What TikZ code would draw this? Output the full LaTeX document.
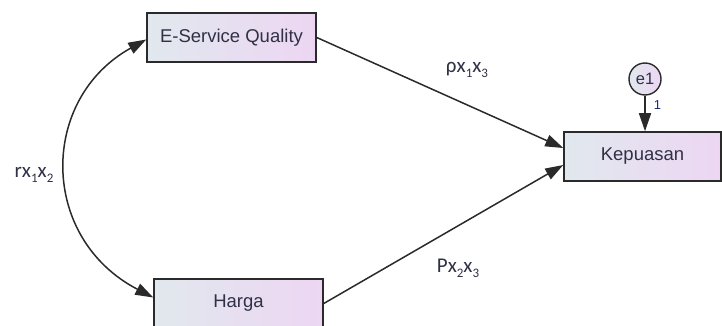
\documentclass[tikz,border=0pt]{standalone}
\usepackage{fontspec}
\setmainfont{Liberation Sans}
\newfontfamily\labfont{Carlito}
\usetikzlibrary{arrows.meta}
\definecolor{lineC}{HTML}{2A2A2A}
\definecolor{boxL}{HTML}{E1E8EE}
\definecolor{boxR}{HTML}{EDD6F3}
\definecolor{txtC}{HTML}{303046}
\definecolor{oneC}{HTML}{1E2C70}
\newcommand{\sbs}[1]{\raisebox{-0.22em}{\fontsize{13}{14}\selectfont #1}}
\begin{document}
\begin{tikzpicture}[x=1pt,y=-1pt,
  var/.style={draw=lineC, line width=1.5pt, left color=boxL, right color=boxR,
    minimum height=49pt, inner sep=0pt, font=\fontsize{18.5}{20}\selectfont, text=txtC},
  err/.style={draw=lineC, line width=1.4pt, circle, left color=boxL, right color=boxR,
    minimum size=32pt, inner sep=0pt, font=\fontsize{16.5}{18}\selectfont, text=txtC},
  conn/.style={draw=lineC, line width=1.5pt, -{Triangle[length=18pt,width=12pt]}},
  dconn/.style={draw=lineC, line width=1.5pt, {Triangle[length=18pt,width=12pt]}-{Triangle[length=18pt,width=12pt]}},
  lab/.style={font=\labfont\fontsize{21}{22}\selectfont, text=txtC, inner sep=0pt}
]
\useasboundingbox (0,0) rectangle (722,326);
\clip (0,0) rectangle (722,326);
\node[var, minimum width=169pt] (esq) at (231.5,37.5) {E-Service Quality};
\node[var, minimum width=169pt] (harga) at (238.5,303.5) {Harga};
\node[var, minimum width=157pt] (kep) at (642.5,156.5) {Kepuasan};
\node[err] (e1) at (645,79) {e1};
\node[font=\fontsize{13}{14}\selectfont, text=oneC, inner sep=0pt] (one) at (657.5,105) {1};
\draw[conn] (e1.south) -- (e1.south |- kep.north);
\draw[conn] (esq.east) -- ([yshift=8.5pt]kep.west);
\draw[conn] (harga.east) -- ([yshift=-8.5pt]kep.west);
\draw[dconn] ([yshift=-2pt]esq.west) .. controls (39,99) and (39,238) .. ([yshift=6pt]harga.west);
\node[lab] (r12) at (34,175) {rx\sbs{1}x\sbs{2}};
\node[lab] (p13) at (467,70) {ρx\sbs{1}x\sbs{3}};
\node[lab] (p23) at (458,268) {Px\sbs{2}x\sbs{3}};
\end{tikzpicture}
\end{document}
